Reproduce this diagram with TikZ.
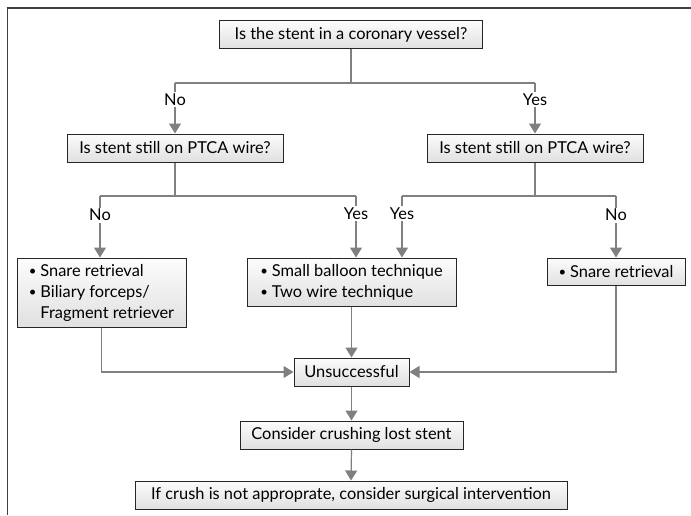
\documentclass[tikz,border=0pt]{standalone}
\usepackage{fontspec}
\setmainfont{Lato}
\usetikzlibrary{arrows.meta}
\newcommand{\stentbul}{\raisebox{0.6pt}{\scalebox{0.8}{\textbullet}}\hspace{4pt}}

\begin{document}
\begin{tikzpicture}[x=1pt,y=-1pt,
  qbox/.style={draw=black!85, line width=1pt, top color=gray!2, bottom color=gray!24,
    minimum height=28pt, inner xsep=6pt, inner ysep=0pt, font=\fontsize{16.4}{21}\selectfont},
  lbox/.style={qbox, align=left},
  link/.style={draw=gray, line width=1.2pt},
  arr/.style={link, -{Triangle[width=12pt,length=10pt]}},
  ans/.style={fill=white, inner sep=1.5pt, font=\fontsize{16.4}{18}\selectfont}]
\useasboundingbox (0,0) rectangle (691,515);
% Frame
\draw[black!75, line width=1pt] (7,515) -- (7,7.5);
\draw[black!75, line width=2pt] (6.5,7.5) -- (691,7.5);

% Questions
\node[qbox, minimum width=263pt] (q0) at (351,34.5) {Is the stent in a coronary vessel?};
\node[qbox, minimum width=216pt] (qL) at (175,148) {Is stent still on PTCA wire?};
\node[qbox, minimum width=216pt] (qR) at (535,148) {Is stent still on PTCA wire?};

% Techniques
\node[lbox, minimum width=169pt, minimum height=69pt] (bl) at (101.5,292.5)
  {\stentbul Snare retrieval\\ \stentbul Biliary forceps/\\ \phantom{\stentbul}Fragment retriever};
\node[lbox, minimum width=209pt, minimum height=48pt] (bm) at (351.5,282)
  {\stentbul Small balloon technique\\ \stentbul Two wire technique};
\node[lbox, minimum width=138pt, minimum height=27pt] (br) at (616,271.5)
  {\stentbul Snare retrieval};

% Outcome
\node[qbox, minimum width=115pt] (un) at (351.5,372) {Unsuccessful};
\node[qbox, minimum width=223pt] (cr) at (351.5,435) {Consider crushing lost stent};
\node[qbox, minimum width=432pt] (sg) at (351,495) {If crush is not approprate, consider surgical intervention};

% Branch points
\coordinate (j0) at (351,83);
\coordinate (j0l) at (175,83);
\coordinate (j0r) at (535,83);
\coordinate (j1) at (175,196);
\coordinate (j1l) at (100,196);
\coordinate (j1r) at (356,196);
\coordinate (j2) at (535,196);
\coordinate (j2l) at (402,196);
\coordinate (j2r) at (616,196);

% Connectors
\draw[link] (q0.south) -- (j0);
\draw[link] (j0l) -- (j0r);
\draw[arr] (j0l) -- (qL.north) node[ans, pos=0.33] {No};
\draw[arr] (j0r) -- (qR.north) node[ans, pos=0.33] {Yes};

\draw[link] (qL.south) -- (j1);
\draw[link] (j1l) -- (j1r);
\draw[arr] (j1l) -- (j1l |- bl.north) node[ans, pos=0.31] {No};
\draw[arr] (j1r) -- (j1r |- bm.north) node[ans, pos=0.28] {Yes};

\draw[link] (qR.south) -- (j2);
\draw[link] (j2l) -- (j2r);
\draw[arr] (j2l) -- (j2l |- bm.north) node[ans, pos=0.28] {Yes};
\draw[arr] (j2r) -- (j2r |- br.north) node[ans, pos=0.31] {No};

\draw[arr] (bl.south) |- (un.west);
\draw[arr] (br.south) |- (un.east);
\draw[arr] (bm.south) -- (un.north);
\draw[arr] (un.south) -- (cr.north);
\draw[arr] (cr.south) -- (sg.north);
\end{tikzpicture}
\end{document}
